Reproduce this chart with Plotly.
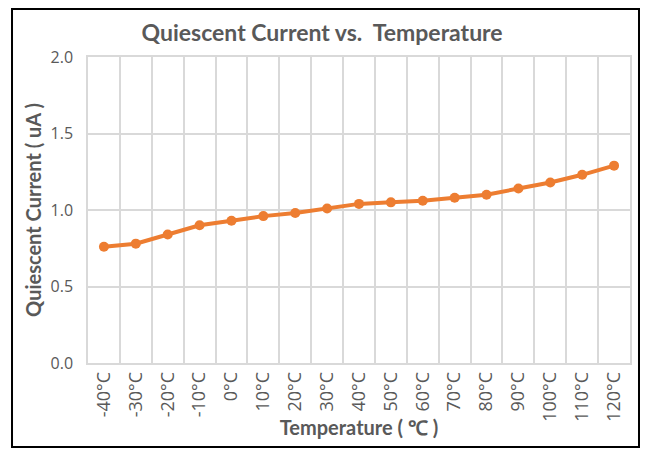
import plotly.graph_objects as go

temps = ['-40°C', '-30°C', '-20°C', '-10°C', '0°C', '10°C', '20°C', '30°C', '40°C',
         '50°C', '60°C', '70°C', '80°C', '90°C', '100°C', '110°C', '120°C']
current_ua = [0.76, 0.78, 0.84, 0.90, 0.93, 0.96, 0.98, 1.01, 1.04,
              1.05, 1.06, 1.08, 1.10, 1.14, 1.18, 1.23, 1.29]

gray = '#595959'
grid = '#d9d9d9'
orange = '#ED7D31'

fig = go.Figure()
fig.add_trace(go.Scatter(
    x=temps, y=current_ua, mode='lines+markers',
    line=dict(color=orange, width=4),
    marker=dict(color=orange, size=10),
    showlegend=False,
))

# outer frame around the whole chart
fig.add_shape(type='rect', xref='paper', yref='paper',
              x0=-0.1402, x1=1.0166, y0=-0.2745, y1=1.157,
              line=dict(color='black', width=2), fillcolor='rgba(0,0,0,0)')

# page has an 8px body margin, so the figure is a bit smaller than the window
fig.update_layout(
    width=632, height=441,
    margin=dict(l=80, r=10, t=49, b=86),
    paper_bgcolor='white', plot_bgcolor='white',
    font=dict(family='Lato', color=gray),
    title=dict(text='<b>Quiescent Current vs.  Temperature</b>',
               x=0.497, xanchor='center', y=0.943, yanchor='middle',
               font=dict(size=23, color=gray, family='Lato')),
)
fig.update_xaxes(
    type='category', tickson='boundaries', tickangle=-90, automargin=False,
    range=[-0.5, len(temps) - 0.5],
    showgrid=True, gridcolor=grid, gridwidth=1.5,
    showline=True, linecolor=grid, linewidth=1.5, mirror=True,
    ticks='', tickfont=dict(size=18, color=gray, family='Open Sans'),
    title=dict(text='<b>Temperature ( ℃ )</b>', font=dict(size=20, color=gray), standoff=0),
)
fig.update_yaxes(
    range=[0, 2.0], dtick=0.5, tickformat='.1f', automargin=False,
    showgrid=True, gridcolor=grid, gridwidth=1.5, zeroline=False,
    showline=True, linecolor=grid, linewidth=1.5, mirror=True,
    ticks='', ticklabelstandoff=10, tickfont=dict(size=16, color=gray, family='Open Sans'),
    title=dict(text='<b>Quiescent Current ( uA )</b>', font=dict(size=20, color=gray), standoff=4),
)

fig.write_html('out.html')
